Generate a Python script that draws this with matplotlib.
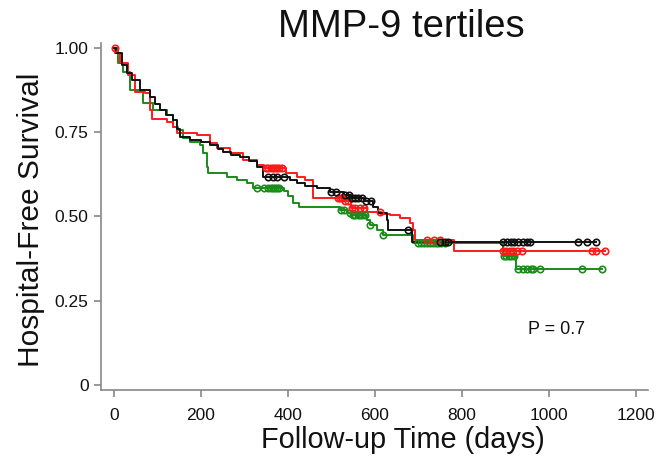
import numpy as np
import matplotlib
matplotlib.use("Agg")
import matplotlib.pyplot as plt

plt.rcParams['font.family'] = ['Liberation Sans', 'DejaVu Sans']

title = "MMP-9 tertiles"
xlabel = "Follow-up Time (days)"
ylabel = "Hospital-Free Survival"
xticks = [0, 200, 400, 600, 800, 1000, 1200]
yticks = [0, 0.25, 0.5, 0.75, 1.0]
ytick_labels = ["0", "0.25", "0.50", "0.75", "1.00"]
p_text = "P = 0.7"

# Black tertile
black_t = [0, 5, 18, 30, 41, 60, 83, 95, 106, 120, 136, 145, 152, 175, 200, 221, 240, 251, 270, 290,
           310, 329, 343, 405, 420, 440, 467, 497, 530, 545, 575, 595, 607, 627, 630, 685]
black_s = [1.0, 0.985, 0.95, 0.925, 0.905, 0.875, 0.855, 0.835, 0.816, 0.80, 0.786, 0.76, 0.736, 0.727,
           0.72, 0.712, 0.70, 0.69, 0.683, 0.676, 0.665, 0.647, 0.617, 0.608, 0.60, 0.592, 0.585, 0.572,
           0.565, 0.555, 0.545, 0.528, 0.51, 0.49, 0.46, 0.424]
black_end = 1108
black_cens = [355, 365, 375, 390, 500, 510, 532, 540, 548, 555, 560, 570, 580, 590, 676, 750, 760,
              768, 895, 903, 912, 920, 930, 940, 950, 956, 1067, 1087, 1108]

# Red tertile
red_t = [0, 3, 14, 32, 48, 71, 83, 87, 122, 136, 145, 191, 221, 237, 267, 297, 329, 345, 395, 420,
         440, 457, 530, 545, 581, 615, 634, 657, 680, 687, 692, 782]
red_s = [1.0, 0.985, 0.955, 0.92, 0.87, 0.866, 0.816, 0.79, 0.78, 0.766, 0.748, 0.742, 0.718, 0.703,
         0.688, 0.668, 0.653, 0.645, 0.63, 0.617, 0.608, 0.555, 0.545, 0.525, 0.513, 0.508, 0.504,
         0.495, 0.48, 0.46, 0.43, 0.397]
red_end = 1128
red_cens = [2, 350, 355, 360, 365, 370, 375, 380, 386, 515, 520, 525, 532, 538, 548, 555, 565, 575,
            611, 720, 735, 750, 895, 902, 910, 918, 926, 938, 1099, 1108, 1128]

# Green tertile
green_t = [0, 9, 21, 37, 60, 67, 90, 122, 136, 147, 159, 175, 198, 205, 214, 216, 260, 283, 306, 320,
           390, 400, 412, 425, 520, 535, 545, 581, 589, 605, 618, 687, 894, 924]
green_s = [1.0, 0.955, 0.93, 0.875, 0.87, 0.837, 0.816, 0.80, 0.766, 0.757, 0.733, 0.72, 0.712, 0.688,
           0.647, 0.629, 0.617, 0.608, 0.60, 0.585, 0.575, 0.56, 0.54, 0.528, 0.52, 0.51, 0.505, 0.49,
           0.475, 0.46, 0.445, 0.42, 0.383, 0.345]
green_end = 1122
green_cens = [329, 345, 355, 360, 365, 370, 375, 380, 522, 530, 542, 550, 555, 560, 565, 570, 577,
              589, 618, 700, 706, 712, 720, 726, 733, 740, 746, 752, 760, 896, 902, 908, 914, 920,
              930, 940, 950, 958, 963, 979, 1076, 1122]

fig = plt.figure(figsize=(6.65, 4.68), dpi=100)
ax = fig.add_axes([101/665, 1 - 390/468, (648-101)/665, (390-43)/468])

def draw(t, s, end, cens, color):
    tt = list(t) + [end]
    ss = list(s) + [s[-1]]
    ax.step(tt, ss, where='post', color=color, lw=1.4, zorder=2)
    idx = np.searchsorted(np.array(t), np.array(cens), side='right') - 1
    cy = np.array(s)[idx]
    ax.plot(cens, cy, linestyle='none', marker='o', markersize=4.6, markerfacecolor='none',
            markeredgecolor=color, markeredgewidth=1.2, zorder=3)

draw(green_t, green_s, green_end, green_cens, '#1a8c1a')
draw(red_t, red_s, red_end, red_cens, '#ff1a1a')
draw(black_t, black_s, black_end, black_cens, '#111111')

ax.set_xlim(-30, 1228)
ax.set_ylim(-0.015, 1.015)
ax.set_xticks(xticks)
ax.set_xticklabels([str(v) for v in xticks])
ax.set_yticks(yticks)
ax.set_yticklabels(ytick_labels)
for sp in ['top', 'right']:
    ax.spines[sp].set_visible(False)
for sp in ['left', 'bottom']:
    ax.spines[sp].set_color('#888888')
    ax.spines[sp].set_linewidth(1.2)
ax.tick_params(axis='both', colors='#888888', labelcolor='#111111', labelsize=12.5,
               length=5, width=1.2, direction='out')
ax.tick_params(axis='x', pad=8)
ax.tick_params(axis='y', pad=4)

fig.text(401/665, 1 - 27/468, title, ha='center', va='center', fontsize=27.5, color='#111111')
fig.text(403/665, 1 - 440/468, xlabel, ha='center', va='center', fontsize=20.8, color='#111111')
fig.text(31/665, 1 - 220/468, ylabel, ha='center', va='center', rotation=90, fontsize=21.5,
         color='#111111')
fig.text(556/665, 1 - 330/468, p_text, ha='center', va='center', fontsize=13, color='#111111')

fig.savefig('out.png', dpi=100)
